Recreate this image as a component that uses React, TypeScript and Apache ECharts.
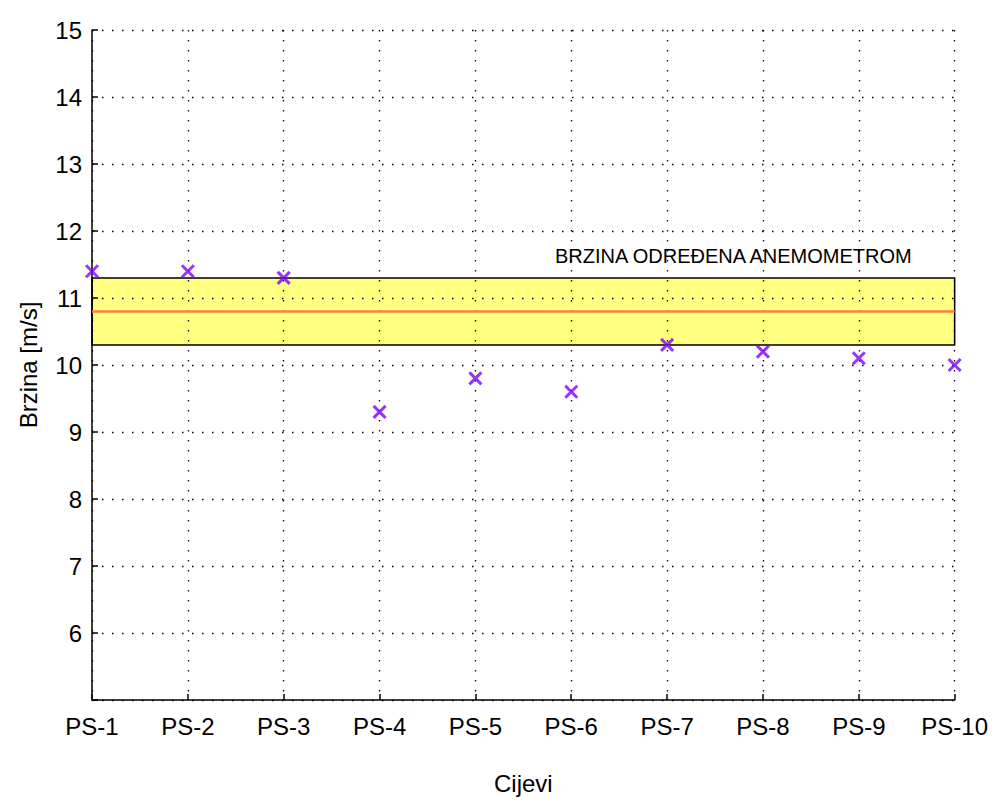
import React, { useEffect, useRef } from "react";
import * as echarts from "echarts";

const categories = ["PS-1", "PS-2", "PS-3", "PS-4", "PS-5", "PS-6", "PS-7", "PS-8", "PS-9", "PS-10"];
const speeds = [11.4, 11.4, 11.3, 9.3, 9.8, 9.6, 10.3, 10.2, 10.1, 10.0];
const anemometerMean = 10.8;
const anemometerLow = 10.3;
const anemometerHigh = 11.3;
const yTicks = { min: 5, max: 15, interval: 1 };
const bandLabel = "BRZINA ODREĐENA ANEMOMETROM";

const FONT = "Liberation Sans, Arial, sans-serif";

export default function App() {
  const ref = useRef<HTMLDivElement>(null);
  useEffect(() => {
    if (!ref.current) return;
    const chart = echarts.init(ref.current, undefined, { renderer: "svg" });
    const grid = { left: 80, right: 33, top: 22, bottom: 88 };
    const gridLine = { type: [1.5, 8.5] as any, color: "#000", width: 1.3 };
    chart.setOption({
      animation: false,
      backgroundColor: "#fff",
      grid,
      xAxis: {
        type: "category",
        data: categories,
        boundaryGap: false,
        z: 3,
        name: "Cijevi",
        nameLocation: "middle",
        nameGap: 71,
        nameTextStyle: { fontFamily: FONT, fontSize: 24, color: "#000" },
        axisLine: { lineStyle: { color: "#000", width: 1.5 } },
        axisTick: { inside: true, length: 6, lineStyle: { color: "#000", width: 1.5 } },
        axisLabel: { fontFamily: FONT, fontSize: 24, color: "#000", margin: 14 },
        splitLine: { show: true, lineStyle: gridLine },
      },
      yAxis: {
        type: "value",
        min: yTicks.min,
        max: yTicks.max,
        interval: yTicks.interval,
        z: 3,
        name: "Brzina [m/s]",
        nameLocation: "middle",
        nameGap: 52,
        nameTextStyle: { fontFamily: FONT, fontSize: 24, color: "#000" },
        axisLine: { show: true, lineStyle: { color: "#000", width: 1.5 } },
        axisTick: { show: true, inside: true, length: 6, lineStyle: { color: "#000", width: 1.5 } },
        axisLabel: {
          fontFamily: FONT,
          fontSize: 24,
          color: "#000",
          margin: 10,
          formatter: (v: number) => (v === yTicks.min ? "" : String(v)),
        },
        splitLine: { show: true, lineStyle: gridLine },
      },
      series: [
        {
          type: "line",
          data: [],
          z: 1,
          silent: true,
          markArea: {
            silent: true,
            itemStyle: { color: "#FFFF80", borderColor: "#000", borderWidth: 1.5 },
            data: [[{ xAxis: categories[0], yAxis: anemometerLow }, { xAxis: categories[categories.length - 1], yAxis: anemometerHigh }]],
          },
        },
        {
          type: "line",
          data: [],
          z: 4,
          silent: true,
          markLine: {
            silent: true,
            symbol: "none",
            label: { show: false },
            lineStyle: { color: "#FF8040", width: 2.5, type: "solid" },
            data: [[{ xAxis: categories[0], yAxis: anemometerMean }, { xAxis: categories[categories.length - 1], yAxis: anemometerMean }]],
          },
        },
        {
          type: "scatter",
          z: 6,
          data: speeds,
          symbol: "path://M0 0L10 10M10 0L0 10",
          symbolSize: 12,
          itemStyle: { color: "rgba(0,0,0,0)", borderColor: "#7F00FF", borderWidth: 3 },
        },
      ],
      graphic: [
        {
          type: "text",
          left: 547,
          top: 238,
          z: 10,
          style: { text: bandLabel, font: `20px ${FONT}`, fill: "#000" },
        },
      ],
    });
    return () => chart.dispose();
  }, []);
  return <div ref={ref} style={{ width: 983, height: 792 }} />;
}
